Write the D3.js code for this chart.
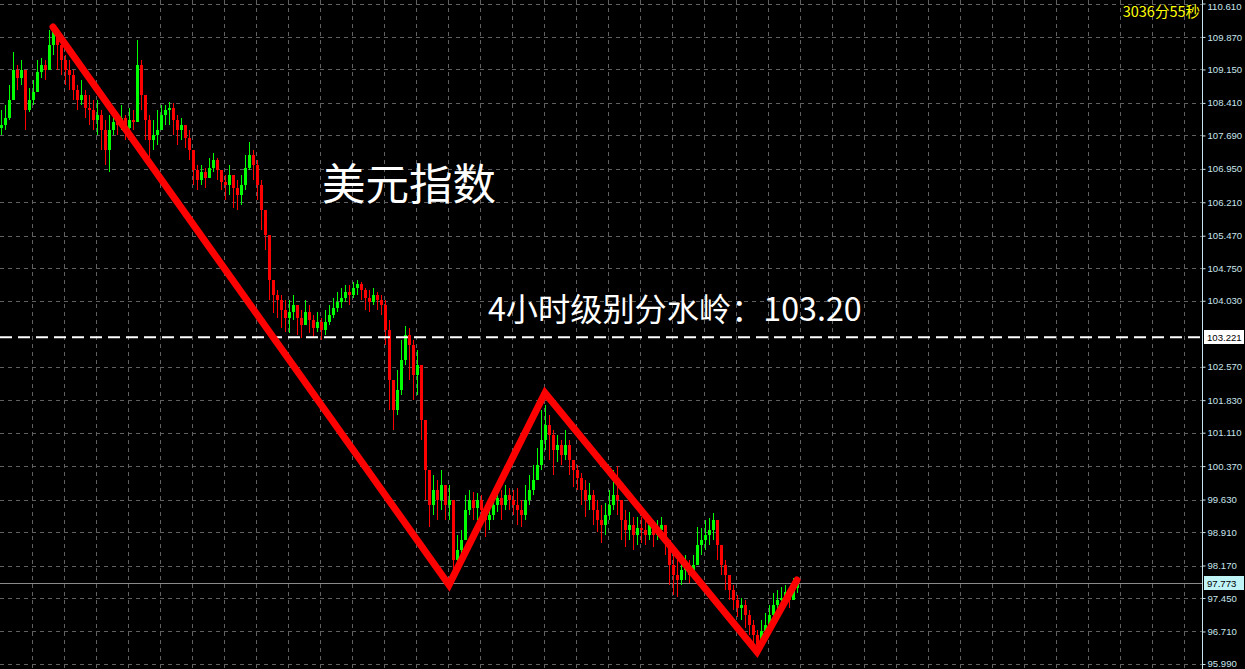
<!DOCTYPE html>
<html>
<head>
<meta charset="utf-8">
<script src="https://cdn.jsdelivr.net/npm/d3@7"></script>
<style>
html,body{margin:0;padding:0;background:#000;overflow:hidden;}
svg{display:block;}
</style>
</head>
<body>
<svg id="chart" width="1245" height="669"></svg>
<script>
// ---- data ----
const closes = [107.92,108.08,108.47,109.14,108.96,109.14,108.25,108.47,108.65,109.09,
109.25,109.14,109.69,110.02,109.69,109.36,109.14,109.03,108.70,108.47,
108.59,108.30,108.25,108.03,108.14,107.81,107.37,107.81,107.99,107.92,
108.07,107.85,108.03,107.99,109.25,108.59,108.03,107.59,107.70,107.81,
108.14,108.25,108.30,108.03,107.81,107.92,107.63,107.37,106.92,106.70,
106.88,106.75,106.97,107.15,106.92,106.66,106.59,106.81,106.52,106.37,
106.59,106.97,107.26,107.04,106.59,106.04,105.49,104.49,104.16,104.05,
103.83,103.65,103.79,103.94,103.65,103.50,103.79,103.61,103.43,103.57,
103.39,103.57,103.72,103.87,104.01,104.10,104.23,104.16,104.32,104.40,
104.27,104.10,104.01,104.16,104.05,103.94,103.39,102.28,101.61,102.06,
102.72,103.28,103.05,102.39,102.61,101.39,100.29,99.51,99.84,99.62,
99.95,99.51,99.62,98.30,98.52,98.74,99.40,99.62,99.44,99.62,
99.40,99.18,99.29,99.51,99.66,99.51,99.73,99.62,99.51,99.40,
99.29,99.62,99.84,100.07,100.40,100.95,101.28,101.06,100.73,100.84,
100.62,100.84,100.51,100.29,100.11,99.84,99.62,99.73,99.40,99.18,
99.07,99.29,99.51,99.73,99.62,99.18,98.96,99.07,98.85,99.00,
98.96,98.85,99.07,98.85,98.96,99.07,98.74,98.19,97.96,97.85,
98.07,98.19,97.96,98.19,98.63,98.74,98.85,98.96,99.18,98.63,
98.19,97.96,97.63,97.41,97.23,97.30,97.08,96.86,96.64,96.42,
96.71,96.86,97.08,97.30,97.41,97.45,97.58,97.41,97.67,97.773];

const highs = [108.25,108.36,108.81,109.54,109.25,109.36,109.03,108.74,108.92,109.36,
109.40,109.36,110.02,110.13,110.02,109.80,109.47,109.36,109.14,108.81,
108.92,108.70,108.59,108.47,108.47,108.25,108.03,108.14,108.25,108.21,
108.36,108.14,108.30,108.25,109.80,109.36,108.59,108.14,108.03,108.25,
108.36,108.36,108.43,108.41,108.14,108.08,107.92,107.81,107.37,107.04,
107.04,106.97,107.19,107.30,107.19,106.92,106.81,107.04,106.81,106.70,
106.81,107.26,107.54,107.37,107.15,106.70,105.93,105.38,104.49,104.27,
104.16,104.05,104.05,104.16,103.94,103.83,104.05,103.94,103.72,103.78,
103.65,103.83,103.94,104.09,104.22,104.31,104.38,104.38,104.45,104.49,
104.45,104.31,104.27,104.31,104.22,104.16,104.05,103.60,102.28,102.50,
103.16,103.47,103.43,103.16,102.94,102.28,100.95,100.28,100.17,100.06,
100.28,99.84,99.95,99.18,98.85,98.96,99.73,99.84,99.80,99.78,
99.73,99.51,99.62,99.80,99.89,99.84,99.95,99.89,99.84,99.89,
99.62,99.95,100.17,100.40,100.77,101.61,101.72,101.50,101.17,101.06,
100.95,101.17,100.95,100.51,100.40,100.22,100.06,100.00,99.84,99.62,
99.51,99.55,99.84,100.28,100.37,99.62,99.40,99.36,99.24,99.24,
99.24,99.18,99.24,99.18,99.18,99.24,99.07,98.62,98.40,98.29,
98.36,98.40,98.29,98.40,99.02,99.00,99.18,99.22,99.33,98.96,
98.62,98.29,97.96,97.74,97.52,97.45,97.41,97.19,96.96,96.74,
96.96,97.12,97.30,97.56,97.63,97.69,97.74,97.67,97.89,97.92];

const lows = [107.70,107.81,108.03,108.70,108.70,108.81,107.81,108.21,108.36,108.70,
108.96,108.92,109.14,109.47,109.14,109.03,108.81,108.70,108.47,108.25,
108.36,108.08,107.92,107.81,107.70,107.37,107.04,106.88,107.70,107.70,
107.81,107.59,107.70,107.81,108.03,108.25,107.59,107.21,107.37,107.48,
107.81,107.92,107.92,107.70,107.48,107.59,107.41,107.15,106.59,106.48,
106.59,106.53,106.75,106.88,106.70,106.48,106.26,106.37,106.08,106.04,
106.15,106.48,106.92,106.70,106.26,105.60,105.15,104.05,103.76,103.65,
103.43,103.34,103.32,103.60,103.27,103.21,103.49,103.32,103.21,103.34,
103.16,103.27,103.49,103.65,103.78,103.87,104.00,103.94,104.09,104.16,
104.05,103.83,103.78,103.94,103.83,103.72,103.05,101.61,101.17,101.50,
101.94,102.61,102.28,101.83,101.94,100.95,99.62,99.02,99.29,99.18,
99.40,99.18,99.18,97.92,98.07,98.29,98.74,99.29,99.18,99.18,
99.02,98.80,98.96,99.18,99.36,99.18,99.40,99.40,99.29,99.07,
99.02,99.18,99.51,99.73,100.06,100.28,100.73,100.51,100.17,100.46,
100.40,100.51,100.17,99.91,99.84,99.51,99.24,99.40,99.07,98.91,
98.67,98.85,99.18,99.40,99.29,98.74,98.58,98.74,98.51,98.62,
98.67,98.62,98.74,98.58,98.74,98.80,98.40,97.74,97.52,97.47,
97.74,97.85,97.78,97.89,98.29,98.40,98.51,98.62,98.74,98.29,
97.96,97.63,97.41,97.19,97.03,96.96,96.79,96.63,96.34,96.23,
96.41,96.57,96.79,96.96,97.14,97.19,97.30,97.23,97.47,97.56];

const firstOpen = 107.85;

const tickValues = [110.610,109.870,109.150,108.410,107.690,106.950,106.210,105.470,104.750,104.030,
102.570,101.830,101.110,100.370,99.630,98.910,98.170,97.450,96.710,95.990];

// zigzag trend line: [candle index, price]
const trendIdx = [13, 112, 136, 189, 199];
const trendPrice = [110.09, 97.74, 101.99, 96.26, 97.85];

const pivotLevel = 103.221;
const lastPrice = 97.773;
const timerText = "3036分55秒";
const titleText = "美元指数";
const pivotText = "4小时级别分水岭：103.20";

// ---- drawing ----
const W = 1245, H = 669, axisX = 1202;
const svg = d3.select("#chart");
svg.append("rect").attr("width", W).attr("height", H).attr("fill", "#000");

const y = d3.scaleLinear().domain([95.99, 110.61]).range([664, 3.5]);
const x = d3.scaleLinear().domain([0, 199]).range([1, 797]);

const candles = closes.map((c, i) => {
  const o = i === 0 ? firstOpen : closes[i - 1];
  return {i, o, c, h: Math.max(highs[i], o, c), l: Math.min(lows[i], o, c)};
});

// grid
const gGrid = svg.append("g").attr("stroke", "#606060").attr("stroke-dasharray", "4,4").attr("stroke-width", 1);
const vLines = d3.range(1, 38).map(k => Math.round(x(8 * k)) - 1 + 0.5);
gGrid.selectAll("line.v").data(vLines).join("line")
  .attr("x1", d => d).attr("x2", d => d).attr("y1", 0).attr("y2", H);
gGrid.selectAll("line.h").data(tickValues).join("line")
  .attr("x1", 0).attr("x2", axisX).attr("y1", d => Math.round(y(d)) + 0.5).attr("y2", d => Math.round(y(d)) + 0.5);

// current price line
svg.append("line").attr("x1", 0).attr("x2", axisX)
  .attr("y1", Math.round(y(lastPrice)) + 0.5).attr("y2", Math.round(y(lastPrice)) + 0.5)
  .attr("stroke", "#8a8a8a").attr("stroke-width", 1);

// candles
const gC = svg.append("g").attr("shape-rendering", "crispEdges");
const col = d => d.c > d.o ? "#00ff00" : (d.c < d.o ? "#ff0000" : "#ffff00");
gC.selectAll("rect.w").data(candles).join("rect")
  .attr("x", d => Math.round(x(d.i))).attr("width", 1)
  .attr("y", d => y(d.h)).attr("height", d => Math.max(1, y(d.l) - y(d.h)))
  .attr("fill", col);
gC.selectAll("rect.b").data(candles).join("rect")
  .attr("x", d => Math.round(x(d.i)) - 1).attr("width", 3)
  .attr("y", d => y(Math.max(d.o, d.c))).attr("height", d => Math.max(1, Math.abs(y(d.o) - y(d.c))))
  .attr("fill", col);

// pivot dashed line
svg.append("line").attr("x1", 0).attr("x2", axisX)
  .attr("y1", y(pivotLevel)).attr("y2", y(pivotLevel))
  .attr("stroke", "#ffffff").attr("stroke-width", 2).attr("stroke-dasharray", "12,6");

// zigzag
const zz = trendIdx.map((t, k) => [x(t), y(trendPrice[k])]);
svg.append("path").attr("d", d3.line()(zz))
  .attr("fill", "none").attr("stroke", "#ff0000").attr("stroke-width", 7)
  .attr("stroke-linejoin", "miter").attr("stroke-linecap", "round");

// axis
svg.append("rect").attr("x", axisX + 1).attr("y", 0).attr("width", W - axisX).attr("height", H).attr("fill", "#000");
const axis = d3.axisRight(y).tickValues(tickValues).tickFormat(d3.format(".3f")).tickSize(3).tickPadding(2);
const gA = svg.append("g").attr("transform", `translate(${axisX + 0.5},0)`).call(axis);
gA.select(".domain").attr("stroke", "#c8e4ec").attr("d", `M0,0V${H}`);
gA.selectAll(".tick line").attr("stroke", "#c8e4ec");
gA.selectAll(".tick text").attr("fill", "#c8e4ec")
  .style("font-family", "'Liberation Sans', Arial, sans-serif").style("font-size", "9.6px")
  .attr("dy", (d, k) => k === 0 ? "0.62em" : "0.32em")
  .attr("y", (d, k) => k === tickValues.length - 1 ? -1 : 0);

// price labels
function priceLabel(v, bg, fg) {
  const yy = Math.round(y(v));
  svg.append("rect").attr("x", axisX + 2).attr("y", yy - 7).attr("width", 40).attr("height", 14).attr("fill", bg);
  svg.append("text").attr("x", axisX + 5).attr("y", yy + 4).text(d3.format(".3f")(v))
    .attr("fill", fg).style("font-family", "'Liberation Sans', Arial, sans-serif").style("font-size", "9.6px");
}
priceLabel(pivotLevel, "#ffffff", "#000000");
priceLabel(lastPrice, "#bff3f5", "#000000");

// texts
svg.append("text").attr("x", 1200).attr("y", 17).attr("text-anchor", "end").text(timerText)
  .attr("fill", "#ffff00").style("font-family", "'Noto Sans CJK SC', sans-serif").style("font-size", "14.5px");
svg.append("text").attr("x", 322).attr("y", 200).text(titleText)
  .attr("fill", "#ffffff").style("font-family", "'Noto Sans CJK SC', sans-serif").style("font-size", "43.5px");
svg.append("text").attr("x", 488).attr("y", 321).text(pivotText)
  .attr("fill", "#ffffff").style("font-family", "'Noto Sans CJK SC', sans-serif").style("font-size", "32.2px");
</script>
</body>
</html>
